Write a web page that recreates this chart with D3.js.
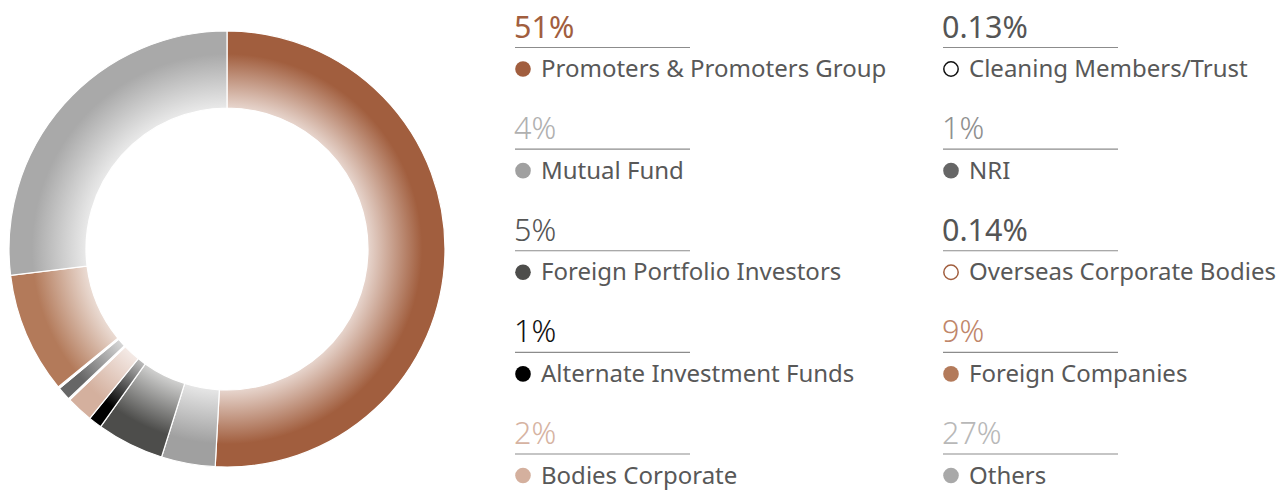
<!DOCTYPE html>
<html>
<head>
<meta charset="utf-8">
<script src="https://cdn.jsdelivr.net/npm/d3@7"></script>
<style>
  html, body { margin: 0; padding: 0; background: #fff; }
  svg { display: block; }
</style>
</head>
<body>
<svg id="chart" width="1283" height="492"></svg>
<script>
// Shareholding pattern
const categories = [
  "Promoters & Promoters Group",
  "Mutual Fund",
  "Foreign Portfolio Investors",
  "Alternate Investment Funds",
  "Bodies Corporate",
  "Cleaning Members/Trust",
  "NRI",
  "Overseas Corporate Bodies",
  "Foreign Companies",
  "Others"
];
const shares = [51, 4, 5, 1, 2, 0.13, 1, 0.14, 9, 27];
const shareLabels = ["51%", "4%", "5%", "1%", "2%", "0.13%", "1%", "0.14%", "9%", "27%"];

// Slice / swatch colours, percentage text colours and weights, hollow swatch outlines
const sliceColors = ["#a15e3e", "#a0a0a0", "#4d4d4b", "#000000", "#d4b09e", "#ffffff", "#666666", "#ffffff", "#b37a5a", "#a9a9a9"];
const swatchStroke = [null, null, null, null, null, "#111111", null, "#a15e3e", null, null];
const valueColors = ["#a15e3e", "#b0b0b0", "#555555", "#111111", "#d6b3a2", "#555555", "#8f8f8f", "#555555", "#c0866a", "#b8b8b8"];
const valueWeights = [400, 300, 300, 300, 300, 400, 300, 400, 300, 300];

const svg = d3.select("#chart");
const cx = 227, cy = 249, outerR = 218, innerR = 141;

const defs = svg.append("defs");
const pie = d3.pie().sort(null).value(d => d);
const arc = d3.arc().innerRadius(innerR).outerRadius(outerR);
const arcs = pie(shares);

// radial gradient per slice: pale toward the hole, full colour at the rim
sliceColors.forEach((c, i) => {
  const g = defs.append("radialGradient")
    .attr("id", "grad" + i)
    .attr("gradientUnits", "userSpaceOnUse")
    .attr("cx", 0).attr("cy", 0).attr("r", outerR);
  const pale = d3.interpolateRgb(c, "#ffffff")(0.74);
  const stops = [[0, pale], [innerR / outerR, pale], [0.895, c], [1, c]];
  stops.forEach(([o, col]) => g.append("stop").attr("offset", o).attr("stop-color", col));
});

const donut = svg.append("g").attr("transform", `translate(${cx},${cy})`);
donut.selectAll("path")
  .data(arcs)
  .join("path")
  .attr("d", arc)
  .attr("fill", (d, i) => `url(#grad${i})`)
  .attr("stroke", "#ffffff")
  .attr("stroke-width", 1.2);

// legend: two columns of five entries
const colX = d3.scaleOrdinal().domain([0, 1]).range([515, 943]);
const rowY = d3.scaleLinear().domain([0, 4]).range([47.5, 454]);
const lineLen = 175;

const items = svg.append("g").selectAll("g")
  .data(categories.map((name, i) => ({ name, i })))
  .join("g")
  .attr("transform", d => `translate(${colX(Math.floor(d.i / 5))},${rowY(d.i % 5)})`);

items.append("text")
  .attr("x", -1).attr("y", -10)
  .attr("font-family", "'Noto Sans', 'Open Sans', sans-serif")
  .attr("font-weight", d => valueWeights[d.i])
  .attr("font-size", 30.5)
  .attr("fill", d => valueColors[d.i])
  .text(d => shareLabels[d.i]);

items.append("line")
  .attr("x1", 0).attr("x2", lineLen)
  .attr("y1", 0).attr("y2", 0)
  .attr("stroke", "#8c8c8c")
  .attr("stroke-width", 1.2);

items.append("circle")
  .attr("cx", 8).attr("cy", 21.5)
  .attr("r", d => swatchStroke[d.i] ? 7.2 : 7.8)
  .attr("fill", d => sliceColors[d.i])
  .attr("stroke", d => swatchStroke[d.i] || "none")
  .attr("stroke-width", 1.5);

items.append("text")
  .attr("x", 26).attr("y", 29.5)
  .attr("font-family", "'Noto Sans', 'Open Sans', sans-serif")
  .attr("font-size", 24)
  .attr("fill", "#585858")
  .text(d => d.name);
</script>
</body>
</html>
